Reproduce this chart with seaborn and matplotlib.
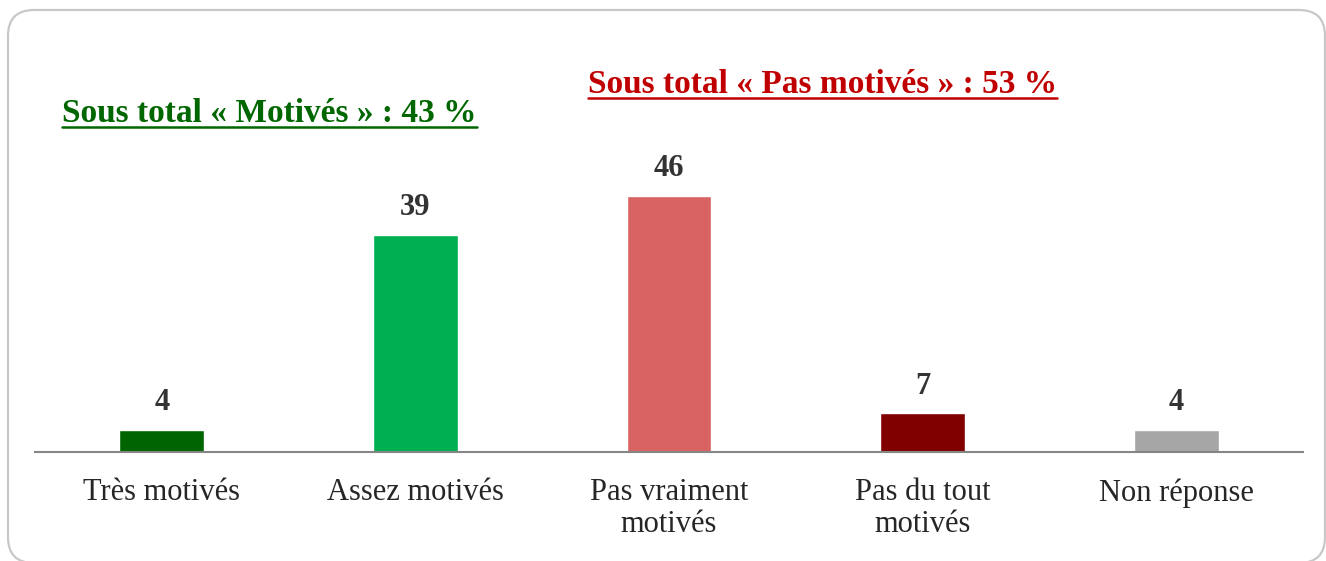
import matplotlib
matplotlib.use("Agg")
import matplotlib.pyplot as plt
from matplotlib.patches import FancyBboxPatch
from matplotlib.lines import Line2D
from matplotlib.transforms import IdentityTransform
import seaborn as sns
import pandas as pd

# ================
# Data
# ================
categories = ["Très motivés", "Assez motivés", "Pas vraiment\nmotivés", "Pas du tout\nmotivés", "Non réponse"]
values = [4, 39, 46, 7, 4]
colors = ["#006400", "#00B050", "#D96363", "#800000", "#A6A6A6"]
subtotal_green = "Sous total « Motivés » : 43 %"
subtotal_red = "Sous total « Pas motivés » : 53 %"

df = pd.DataFrame({"cat": categories, "val": values})

# ================
# Plot
# ================
sns.set_style("white")
plt.rcParams["font.family"] = ["Liberation Serif", "DejaVu Serif"]

W, H = 1326, 561
fig = plt.figure(figsize=(W / 100, H / 100), dpi=100)

# axes placed so the baseline sits at y=452px and 1 unit ~ 5.57px
ylim_top = 50
ax_h = ylim_top * 5.57
ax = fig.add_axes([35 / W, 1 - 452 / H, (1303 - 35) / W, ax_h / H])

sns.barplot(data=df, x="cat", y="val", hue="cat", palette=colors,
            width=0.335, legend=False, ax=ax, saturation=1)

ax.set_ylim(0, ylim_top)
ax.set_xlim(-0.5, len(categories) - 0.5)
ax.set_xlabel("")
ax.set_ylabel("")
ax.set_yticks([])
for side in ["top", "right", "left"]:
    ax.spines[side].set_visible(False)
ax.spines["bottom"].set_color("#868686")
ax.spines["bottom"].set_linewidth(1.5)
ax.tick_params(axis="x", length=0, pad=19, labelsize=22, labelcolor="#262626")
for lbl in ax.get_xticklabels():
    lbl.set_linespacing(1.1)
ax.patch.set_alpha(0)

for cont in ax.containers:
    ax.bar_label(cont, fmt="%d", padding=9, fontsize=22, fontweight="bold", color="#333333")

# subtotal titles, underlined
def underlined(x, y, s, color):
    t = fig.text(x / W, 1 - y / H, s, fontsize=24, fontweight="bold", color=color,
                 ha="left", va="baseline")
    fig.canvas.draw()
    bb = t.get_window_extent(renderer=fig.canvas.get_renderer())
    uy = (H - y - 5) / H
    fig.add_artist(Line2D([bb.x0 / W, bb.x1 / W], [uy, uy], color=color, lw=1.8))

underlined(62, 122, subtotal_green, "#006600")
underlined(588, 93, subtotal_red, "#C00000")

# rounded frame (pixel coordinates), bottom runs off the image
frame = FancyBboxPatch((8, -2), W - 9, H - 8,
                       boxstyle="round,pad=0,rounding_size=26",
                       transform=IdentityTransform(), fill=False,
                       edgecolor="#C8C8C8", linewidth=1.6)
fig.add_artist(frame)

fig.savefig("out.png", dpi=100)
